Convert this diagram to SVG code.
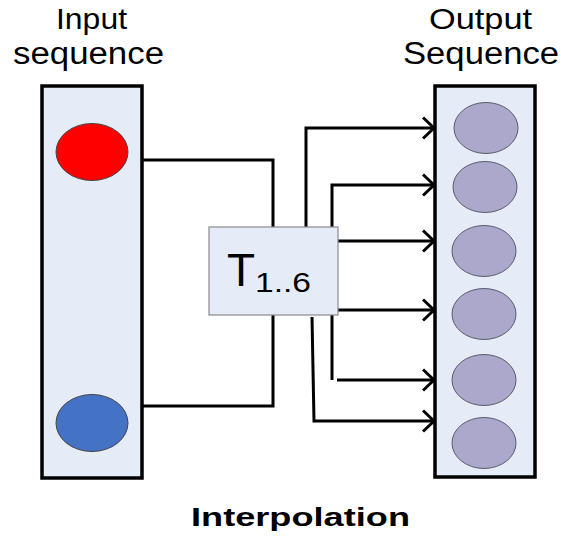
<svg xmlns="http://www.w3.org/2000/svg" width="561" height="540" viewBox="0 0 561 540">
<defs>
<style>
.lbl{font-family:"Liberation Sans",Arial,sans-serif;fill:#000}
.col{fill:#e6ecf7;stroke:#000;stroke-width:3.5}
.conn{fill:none;stroke:#000;stroke-width:3}
.out{fill:#aba8cb;stroke:#5a5a6e;stroke-width:1}
</style>
<marker id="chev" markerUnits="userSpaceOnUse" markerWidth="16" markerHeight="26" refX="12" refY="12" orient="auto" viewBox="0 0 16 26">
<path d="M1,1.5 L12,12 L1,22.5" fill="none" stroke="#000" stroke-width="3"/>
</marker>
</defs>
<rect width="561" height="540" fill="#fff"/>
<g id="title-input">
<text class="lbl" x="56" y="29" font-size="29" textLength="71" lengthAdjust="spacingAndGlyphs">Input</text>
<text class="lbl" x="13" y="63.5" font-size="31" textLength="151" lengthAdjust="spacingAndGlyphs">sequence</text>
</g>
<g id="title-output">
<text class="lbl" x="429" y="29" font-size="29" textLength="103" lengthAdjust="spacingAndGlyphs">Output</text>
<text class="lbl" x="403" y="63.5" font-size="31" textLength="156" lengthAdjust="spacingAndGlyphs">Sequence</text>
</g>
<g id="input-seq">
<rect class="col" x="42" y="86" width="100" height="392"/>
<ellipse cx="92" cy="152" rx="36" ry="28.5" fill="#ff0000" stroke="#444" stroke-width="1"/>
<ellipse cx="92" cy="423" rx="36" ry="28.5" fill="#4472c4" stroke="#444" stroke-width="1"/>
</g>
<g id="output-seq">
<rect class="col" x="435" y="86" width="100" height="391"/>
<ellipse class="out" cx="486" cy="128" rx="32" ry="25.5"/>
<ellipse class="out" cx="485" cy="187" rx="32" ry="25.5"/>
<ellipse class="out" cx="484" cy="251" rx="32" ry="25.5"/>
<ellipse class="out" cx="484" cy="314" rx="32" ry="25.5"/>
<ellipse class="out" cx="484" cy="380" rx="32" ry="25.5"/>
<ellipse class="out" cx="484" cy="443" rx="32" ry="25.5"/>
</g>
<g id="connectors">
<path class="conn" d="M142,160 H273 V227"/>
<path class="conn" d="M273,315 V406 H142"/>
<path class="conn" d="M306,227 V128 H434" marker-end="url(#chev)"/>
<path class="conn" d="M332,227 V185 H434" marker-end="url(#chev)"/>
<path class="conn" d="M338,241 H434" marker-end="url(#chev)"/>
<path class="conn" d="M338,310 H434" marker-end="url(#chev)"/>
<path class="conn" d="M332,315 V380"/>
<path class="conn" d="M337,380 H434" marker-end="url(#chev)"/>
<path class="conn" d="M312,317 L314,421 H434" marker-end="url(#chev)"/>
</g>
<g id="transform">
<rect x="209" y="227" width="129" height="88" fill="#e6ecf7" stroke="#8a8a8a" stroke-width="1.2"/>
<text class="lbl" x="227" y="286" font-size="46">T</text>
<text class="lbl" x="255" y="292" font-size="28" textLength="56" lengthAdjust="spacingAndGlyphs">1..6</text>
</g>
<g id="caption">
<text class="lbl" x="191" y="526" font-size="26" font-weight="bold" textLength="219" lengthAdjust="spacingAndGlyphs">Interpolation</text>
</g>
</svg>
